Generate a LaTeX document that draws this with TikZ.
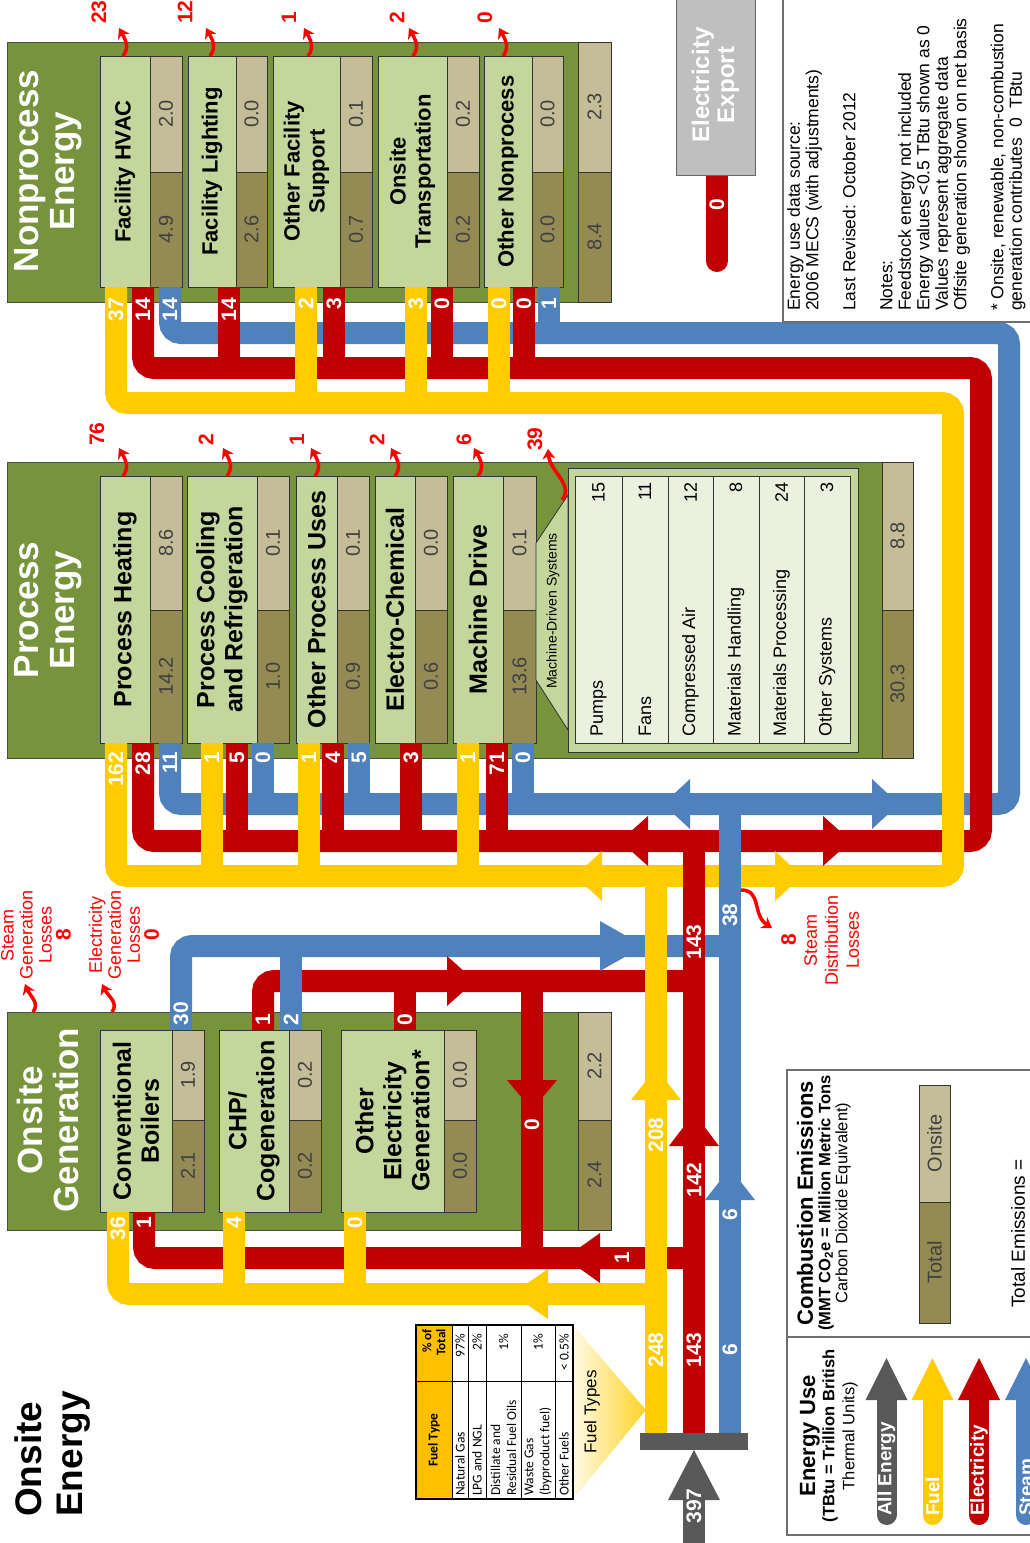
\documentclass[tikz,border=0pt]{standalone}
\usepackage{fontspec}
\setmainfont{Liberation Sans}
\newfontfamily\tablefont{Carlito}
\usepackage{tikz}
\usetikzlibrary{calc,shapes,arrows.meta}

\definecolor{groupgreen}{RGB}{119,147,60}
\definecolor{enduselight}{RGB}{195,214,155}
\definecolor{systempale}{RGB}{235,241,222}
\definecolor{onsitetan}{RGB}{196,189,151}
\definecolor{totaltan}{RGB}{148,138,84}
\definecolor{fuelyellow}{RGB}{255,204,0}
\definecolor{elecred}{RGB}{192,0,0}
\definecolor{steamblue}{RGB}{79,129,189}
\definecolor{allgray}{RGB}{89,89,89}
\definecolor{exportgray}{RGB}{191,191,191}
\definecolor{lossred}{RGB}{255,0,0}
\definecolor{headorange}{RGB}{255,192,0}
\definecolor{valuegray}{RGB}{64,64,64}
\definecolor{framegray}{RGB}{110,110,110}

\tikzstyle{groupbox}=[draw=black!70,fill=groupgreen,line width=0.8pt]
\tikzstyle{enduse}=[rectangle,draw=black!80,fill=enduselight,line width=0.8pt,
                    rotate=90,inner sep=0pt,align=center,
                    font=\fontsize{25}{28}\selectfont\bfseries]
\tikzstyle{npenduse}=[enduse,font=\fontsize{22}{25}\selectfont\bfseries]
\tikzstyle{tanbox}=[draw=black!80,line width=0.8pt]
\tikzstyle{valuetext}=[rotate=90,text=valuegray,inner sep=0pt,
                       font=\fontsize{20}{22}\selectfont]
\tikzstyle{grouptitle}=[rotate=90,text=white,align=center,inner sep=0pt,
                        font=\fontsize{35}{36}\selectfont\bfseries]
\tikzstyle{flowtext}=[rotate=90,text=white,inner sep=0.5pt,
                      font=\fontsize{21}{22}\selectfont\bfseries]
\tikzstyle{losstext}=[rotate=90,text=lossred,inner sep=0pt,anchor=west,
                      font=\fontsize{21}{22}\selectfont\bfseries]
\tikzstyle{lossnote}=[rotate=90,text=lossred,align=center,inner sep=0pt,
                      font=\fontsize{18}{19}\selectfont]
\tikzstyle{lossline}=[draw=lossred,line width=3.5pt,
                      -{Stealth[length=10pt,width=13pt]}]
\tikzstyle{band}=[line width=22pt,rounded corners=11pt]
\tikzstyle{fuelband}=[band,draw=fuelyellow]
\tikzstyle{elecband}=[band,draw=elecred]
\tikzstyle{steamband}=[band,draw=steamblue]
\tikzstyle{systemtext}=[rotate=90,inner sep=0pt,font=\fontsize{18}{20}\selectfont]
\tikzstyle{notetext}=[rotate=90,align=left,inner sep=0pt,
                      font=\fontsize{17.5}{18.5}\selectfont]
\tikzstyle{legendhead}=[rotate=90,inner sep=0pt,
                        font=\fontsize{22}{24}\selectfont\bfseries]
\tikzstyle{legendsub}=[rotate=90,inner sep=0pt,font=\fontsize{16.5}{18}\selectfont]
\tikzstyle{legendline}=[draw=framegray,line width=1.2pt]
\tikzstyle{legendlabel}=[rotate=90,text=white,inner sep=0pt,anchor=west,
                         font=\fontsize{19}{20}\selectfont\bfseries]
\tikzstyle{tabletext}=[rotate=90,inner sep=0pt,
                       font=\tablefont\fontsize{13.5}{16}\selectfont]

% onsite / total column beside a box: name, left, right, top, split, bottom, onsite, total
\newcommand\sidecol[8]{%
  \draw[tanbox,fill=onsitetan] (#2,#4) rectangle (#3,#5);
  \draw[tanbox,fill=totaltan] (#2,#5) rectangle (#3,#6);
  \node[valuetext] (#1on) at ({(#2+#3)/2},{(#4+#5)/2}) {#7};
  \node[valuetext] (#1tot) at ({(#2+#3)/2},{(#5+#6)/2}) {#8};
}
\newcommand\hhead[4]{\fill[#1] (#2,#4-25) -- (#3,#4) -- (#2,#4+25) -- cycle;}
\newcommand\vhead[4]{\fill[#1] (#4-25,#2) -- (#4,#3) -- (#4+25,#2) -- cycle;}
\newcommand\lossup[2]{\draw[lossline] (#1,#2) .. controls ({#1+7},{#2-9}) and ({#1+2},{#2-17}) .. ({#1-4},{#2-28});}
\newcommand\flowlabel[5]{\node[flowtext,anchor=#5] (#1) at (#2,#3) {#4};}
\newcommand\legendarrow[4]{%
  \draw[#3,line width=20pt,line cap=round] (#2,1400) -- (#2,1515);
  \fill[#3] (#2-21,1400) -- (#2,1358) -- (#2+21,1400) -- cycle;
  \node[legendlabel] (#1) at (#2,1516) {#4};
}

\begin{document}
\begin{tikzpicture}[x=1pt,y=-1pt]
\useasboundingbox (0,0) rectangle (1030,1543);
\clip (0,0) rectangle (1030,1543);

\node[rotate=90,align=left,anchor=north west,inner sep=0pt,
      font=\fontsize{37}{41}\selectfont\bfseries] (title) at (14,1517) {Onsite\\Energy};

% electricity export
\draw[elecband,line cap=round] (717,175) -- (717,261);
\node[rectangle,fill=exportgray,draw=black!60,line width=0.8pt,rotate=90,
      minimum width=180pt,minimum height=79pt,text=white,align=center,
      font=\fontsize{24}{25}\selectfont\bfseries] (export) at (715.5,85) {Electricity\\Export};
\flowlabel{exportval}{717}{205}{0}{center}

% nonprocess energy
\draw[groupbox] (7,42) rectangle (578,302);
\node[grouptitle] (nptitle) at (48,171) {Nonprocess\\Energy};
\node[npenduse,minimum width=231pt,minimum height=50pt] (hvac) at (125,171.5) {Facility HVAC};
\sidecol{hvac}{150}{182}{56}{172}{287}{2.0}{4.9}
\node[npenduse,minimum width=231pt,minimum height=48pt] (lighting) at (212,171.5) {Facility Lighting};
\sidecol{lighting}{236}{267}{56}{172}{287}{0.0}{2.6}
\node[npenduse,minimum width=231pt,minimum height=67pt] (support) at (306.5,171.5) {Other Facility\\Support};
\sidecol{support}{340}{372}{56}{172}{287}{0.1}{0.7}
\node[npenduse,minimum width=231pt,minimum height=69pt] (transport) at (412.5,171.5) {Onsite\\Transportation};
\sidecol{transport}{447}{479}{56}{172}{287}{0.2}{0.2}
\node[npenduse,minimum width=231pt,minimum height=48pt] (othernp) at (508,171.5) {Other Nonprocess};
\sidecol{othernp}{532}{563}{56}{172}{287}{0.0}{0.0}
\sidecol{nptotal}{578}{611}{42}{172}{302}{2.3}{8.4}

% process energy
\draw[groupbox] (7,462) rectangle (882,758);
\node[grouptitle] (ptitle) at (48,610) {Process\\Energy};
\node[enduse,minimum width=267pt,minimum height=50pt] (heating) at (125,609.5) {Process Heating};
\sidecol{heating}{150}{182}{476}{610}{743}{8.6}{14.2}
\node[enduse,minimum width=267pt,minimum height=70pt] (cooling) at (222,609.5) {Process Cooling\\and Refrigeration};
\sidecol{cooling}{257}{289}{476}{610}{743}{0.1}{1.0}
\node[enduse,minimum width=267pt,minimum height=41pt] (otherproc) at (316.5,609.5) {Other Process Uses};
\sidecol{otherproc}{337}{369}{476}{610}{743}{0.1}{0.9}
\node[enduse,minimum width=267pt,minimum height=40pt] (electro) at (395,609.5) {Electro-Chemical};
\sidecol{electro}{415}{447}{476}{610}{743}{0.0}{0.6}
\node[enduse,minimum width=267pt,minimum height=50pt] (machine) at (478,609.5) {Machine Drive};
\sidecol{machine}{503}{536}{476}{610}{743}{0.1}{13.6}
\sidecol{ptotal}{882}{913}{462}{610}{758}{8.8}{30.3}

% machine-driven systems
\filldraw[fill=enduselight,draw=black!80,line width=0.8pt] (536,543) -- (568,495) -- (568,730) -- (536,680) -- cycle;
\draw[fill=enduselight,draw=black!80,line width=0.8pt] (568,468) rectangle (858,752);
\draw[fill=systempale,draw=black!80,line width=0.8pt] (575,476) rectangle (850,743);
\foreach \rowx in {622,668,713,759,804}
  \draw[black!80,line width=0.8pt] (\rowx,476) -- (\rowx,743);
\node[rotate=90,inner sep=0pt,font=\fontsize{14}{16}\selectfont] (mdsys) at (553,611) {Machine-Driven Systems};
\node[systemtext,anchor=west] (pumps) at (598.5,737) {Pumps};
\node[systemtext,anchor=east] (pumpsval) at (598.5,482) {15};
\node[systemtext,anchor=west] (fans) at (645,737) {Fans};
\node[systemtext,anchor=east] (fansval) at (645,482) {11};
\node[systemtext,anchor=west] (compair) at (690.5,737) {Compressed Air};
\node[systemtext,anchor=east] (compairval) at (690.5,482) {12};
\node[systemtext,anchor=west] (handling) at (736,737) {Materials Handling};
\node[systemtext,anchor=east] (handlingval) at (736,482) {8};
\node[systemtext,anchor=west] (processing) at (781.5,737) {Materials Processing};
\node[systemtext,anchor=east] (processingval) at (781.5,482) {24};
\node[systemtext,anchor=west] (othersys) at (827,737) {Other Systems};
\node[systemtext,anchor=east] (othersysval) at (827,482) {3};

% onsite generation
\draw[groupbox] (7,1012) rectangle (578,1230);
\node[grouptitle] (gtitle) at (48,1120) {Onsite\\Generation};
\node[enduse,minimum width=182pt,minimum height=72pt] (boilers) at (136,1121) {Conventional\\Boilers};
\sidecol{boilers}{172}{204}{1030}{1120}{1212}{1.9}{2.1}
\node[enduse,minimum width=182pt,minimum height=70pt] (chp) at (254,1121) {CHP/\\Cogeneration};
\sidecol{chp}{289}{321}{1030}{1120}{1212}{0.2}{0.2}
\node[enduse,minimum width=182pt,minimum height=103pt] (otherelec) at (392.5,1121) {Other\\Electricity\\Generation*};
\sidecol{otherelec}{444}{476}{1030}{1120}{1212}{0.0}{0.0}
\sidecol{gtotal}{578}{611}{1012}{1120}{1230}{2.2}{2.4}

% flows around onsite generation
\draw[steamband] (181,1030) -- (181,946) -- (730,946);
\draw[elecband] (263,1030) -- (263,981) -- (694,981);
\draw[elecband] (405,1030) -- (405,981);
\draw[elecband] (532,981) -- (532,1258);
\draw[elecband] (144,1212) -- (144,1258) -- (694,1258);
\draw[steamband] (291,1030) -- (291,946);
\draw[fuelband] (118,1212) -- (118,1294) -- (656,1294);
\draw[fuelband] (234,1212) -- (234,1294);
\draw[fuelband] (355,1212) -- (355,1294);

% flows to process and nonprocess end uses
\draw[steamband] (170,743) -- (170,804) -- (1009,804) -- (1009,333) -- (170,333) -- (170,287);
\draw[steamband] (263,743) -- (263,804);
\draw[steamband] (359,743) -- (359,804);
\draw[steamband] (523,743) -- (523,804);
\draw[steamband] (549,287) -- (549,333);
\draw[elecband] (143,743) -- (143,841) -- (981,841) -- (981,368) -- (143,368) -- (143,287);
\draw[elecband] (237,743) -- (237,841);
\draw[elecband] (333,743) -- (333,841);
\draw[elecband] (411,743) -- (411,841);
\draw[elecband] (497,743) -- (497,841);
\draw[elecband] (229,287) -- (229,368);
\draw[elecband] (334,287) -- (334,368);
\draw[elecband] (442,287) -- (442,368);
\draw[elecband] (524,287) -- (524,368);
\draw[fuelband] (116,743) -- (116,876) -- (953,876) -- (953,403) -- (116,403) -- (116,287);
\draw[fuelband] (212,743) -- (212,876);
\draw[fuelband] (309,743) -- (309,876);
\draw[fuelband] (468,743) -- (468,876);
\draw[fuelband] (306,287) -- (306,403);
\draw[fuelband] (416,287) -- (416,403);
\draw[fuelband] (499,287) -- (499,403);

% fuel types
\shade[left color=fuelyellow!10,right color=fuelyellow!85] (573,1325) -- (646,1410) -- (573,1499) -- cycle;
\node[rotate=90,inner sep=0pt,font=\fontsize{17}{18}\selectfont] (fueltypes) at (592,1412) {Fuel Types};

% trunks
\draw[fuelband] (656,1433) -- (656,876);
\draw[elecband] (694,1433) -- (694,841);
\draw[steamband] (730,1433) -- (730,804);

% arrowheads
\hhead{steamblue}{600}{644}{946}
\hhead{elecred}{447}{475}{981}
\vhead{elecred}{1080}{1110}{532}
\hhead{elecred}{600}{565}{1258}
\hhead{fuelyellow}{548}{512}{1294}
\vhead{fuelyellow}{1100}{1068}{656}
\vhead{elecred}{1146}{1113}{694}
\vhead{steamblue}{1200}{1168}{730}
\hhead{fuelyellow}{602}{575}{876}
\hhead{fuelyellow}{775}{802}{876}
\hhead{elecred}{648}{620}{841}
\hhead{elecred}{823}{851}{841}
\hhead{steamblue}{690}{663}{804}
\hhead{steamblue}{872}{899}{804}

% all energy in
\fill[allgray] (640,1433) rectangle (748,1450);
\fill[allgray] (683,1498) rectangle (705,1545);
\fill[allgray] (668,1500) -- (694,1450) -- (720,1500) -- cycle;
\flowlabel{allin}{694}{1506}{397}{center}

% flow values
\flowlabel{fuelin}{656}{1350}{248}{center}
\flowlabel{elecin}{694}{1350}{143}{center}
\flowlabel{steamin}{730}{1350}{6}{center}
\flowlabel{fuelup}{656}{1135}{208}{center}
\flowlabel{elecup}{694}{1180}{142}{center}
\flowlabel{steamup}{730}{1215}{6}{center}
\flowlabel{elecmid}{694}{942}{143}{center}
\flowlabel{steammid}{730}{915}{38}{center}
\flowlabel{elecdown}{532}{1125}{0}{center}
\flowlabel{elecback}{622}{1258}{1}{center}
\flowlabel{gboilsteam}{181}{1026}{30}{west}
\flowlabel{gchpelec}{263}{1026}{1}{west}
\flowlabel{gchpsteam}{291}{1026}{2}{west}
\flowlabel{gotherelec}{405}{1026}{0}{west}
\flowlabel{gboilfuel}{118}{1216}{36}{east}
\flowlabel{gboilelec}{144}{1216}{1}{east}
\flowlabel{gchpfuel}{234}{1216}{4}{east}
\flowlabel{gotherfuel}{355}{1216}{0}{east}
\flowlabel{pheatfuel}{116}{751}{162}{east}
\flowlabel{pheatelec}{143}{751}{28}{east}
\flowlabel{pheatsteam}{170}{751}{11}{east}
\flowlabel{pcoolfuel}{212}{751}{1}{east}
\flowlabel{pcoolelec}{237}{751}{5}{east}
\flowlabel{pcoolsteam}{263}{751}{0}{east}
\flowlabel{potherfuel}{309}{751}{1}{east}
\flowlabel{potherelec}{333}{751}{4}{east}
\flowlabel{pothersteam}{359}{751}{5}{east}
\flowlabel{pelectroelec}{411}{751}{3}{east}
\flowlabel{pmachfuel}{468}{751}{1}{east}
\flowlabel{pmachelec}{497}{751}{71}{east}
\flowlabel{pmachsteam}{523}{751}{0}{east}
\flowlabel{nhvacfuel}{116}{297}{37}{east}
\flowlabel{nhvacelec}{143}{297}{14}{east}
\flowlabel{nhvacsteam}{170}{297}{14}{east}
\flowlabel{nlightelec}{229}{297}{14}{east}
\flowlabel{nsuppfuel}{306}{297}{2}{east}
\flowlabel{nsuppelec}{334}{297}{3}{east}
\flowlabel{ntransfuel}{416}{297}{3}{east}
\flowlabel{ntranselec}{442}{297}{0}{east}
\flowlabel{notherfuel}{499}{297}{0}{east}
\flowlabel{notherelec}{524}{297}{0}{east}
\flowlabel{nothersteam}{549}{297}{1}{east}

% losses
\lossup{123}{56} \lossup{210}{56} \lossup{308}{56} \lossup{413}{56} \lossup{503}{56}
\node[losstext] (lhvac) at (99,24) {23};
\node[losstext] (llight) at (185,24) {12};
\node[losstext] (lsupp) at (289,24) {1};
\node[losstext] (ltrans) at (397,24) {2};
\node[losstext] (lothernp) at (485,24) {0};
\lossup{123}{476} \lossup{227}{476} \lossup{315}{476} \lossup{395}{476} \lossup{478}{476}
\node[losstext] (lheat) at (97,446) {76};
\node[losstext] (lcool) at (206,446) {2};
\node[losstext] (lotherp) at (297,446) {1};
\node[losstext] (lelectro) at (377,446) {2};
\node[losstext] (lmach) at (464,446) {6};
\draw[lossline] (562,500) .. controls (574,484) and (550,472) .. (548,449);
\node[losstext] (lsys) at (535,451) {39};
\draw[lossline] (33,1012) .. controls (40,1003) and (30,996) .. (25,984);
\draw[lossline] (112,1012) .. controls (119,1003) and (108,996) .. (102,984);
\draw[lossline] (741,890) .. controls (762,890) and (752,915) .. (772,928);
\node[lossnote] (steamgenloss) at (36,935) {Steam\\Generation\\Losses\\{\fontsize{21}{19}\selectfont\bfseries 8}};
\node[lossnote] (elecgenloss) at (124,935) {Electricity\\Generation\\Losses\\{\fontsize{21}{19}\selectfont\bfseries 0}};
\node[lossnote,font=\fontsize{18}{21}\selectfont] (steamdistloss) at (820,940) {{\fontsize{21}{21}\selectfont\bfseries 8}\\Steam\\Distribution\\Losses};

% fuel type table
\fill[headorange] (416,1325) rectangle (452,1499);
\foreach \rowx in {452,468,486,521,555}
  \draw[black,line width=0.8pt] (\rowx,1325) -- (\rowx,1499);
\draw[black,line width=0.8pt] (416,1381) -- (573,1381);
\draw[black,line width=2pt] (416,1325) rectangle (573,1499);
\node[tabletext,font=\tablefont\fontsize{13.5}{16}\selectfont\bfseries] (fthead) at (434,1440) {Fuel Type};
\node[tabletext,anchor=east,align=right,font=\tablefont\fontsize{13}{14}\selectfont\bfseries] (pcthead) at (434,1329) {\% of\\Total};
\node[tabletext,anchor=west] (ngas) at (460,1496) {Natural Gas};
\node[tabletext,anchor=east] (ngaspct) at (460,1334) {97\%};
\node[tabletext,anchor=west] (lpg) at (477,1496) {LPG and NGL};
\node[tabletext,anchor=east] (lpgpct) at (477,1334) {2\%};
\node[tabletext,anchor=west,align=left] (oils) at (503.5,1496) {Distillate and\\Residual Fuel Oils};
\node[tabletext,anchor=east] (oilspct) at (503.5,1334) {1\%};
\node[tabletext,anchor=west,align=left] (waste) at (538,1496) {Waste Gas\\(byproduct fuel)};
\node[tabletext,anchor=east] (wastepct) at (538,1334) {1\%};
\node[tabletext,anchor=west] (otherfuel) at (564,1496) {Other Fuels};
\node[tabletext,anchor=east] (otherfuelpct) at (564,1334) {< 0.5\%};

% notes
\draw[legendline] (783,-2) -- (783,322) -- (1032,322);
\node[notetext,anchor=north west] (notes) at (787,311) {Energy use data source:\\2006 MECS (with adjustments)\\[18.5pt]Last Revised: October 2012\\[18.5pt]Notes:\\Feedstock energy not included\\Energy values <0.5 TBtu shown as 0\\Values represent aggregate data\\Offsite generation shown on net basis\\[18.5pt]* Onsite, renewable, non-combustion\\generation contributes \ 0 \ TBtu};

% legend
\draw[legendline] (787,1070) rectangle (1035,1535);
\draw[legendline] (787,1337) -- (1035,1337);
\node[legendhead] (emhead) at (805,1203) {Combustion Emissions};
\node[legendsub,font=\fontsize{16.5}{18}\selectfont\bfseries] (emunit) at (826,1203) {(MMT CO\textsubscript{2}e = Million Metric Tons};
\node[legendsub] (emunit2) at (843,1203) {Carbon Dioxide Equivalent)};
\sidecol{swatch}{919}{950}{1085}{1202}{1323}{Onsite}{Total}
\node[rotate=90,anchor=west,inner sep=0pt,font=\fontsize{19}{20}\selectfont] (emtotal) at (1018,1308) {Total Emissions =};
\node[legendhead] (usehead) at (810,1436) {Energy Use};
\node[legendsub,font=\fontsize{16.5}{18}\selectfont\bfseries] (useunit) at (830,1436) {(TBtu = Trillion British};
\node[legendsub] (useunit2) at (850,1436) {Thermal Units)};
\legendarrow{keyall}{886.5}{allgray}{All Energy}
\legendarrow{keyfuel}{932.5}{fuelyellow}{Fuel}
\legendarrow{keyelec}{979}{elecred}{Electricity}
\legendarrow{keysteam}{1026}{steamblue}{Steam}
\end{tikzpicture}
\end{document}
